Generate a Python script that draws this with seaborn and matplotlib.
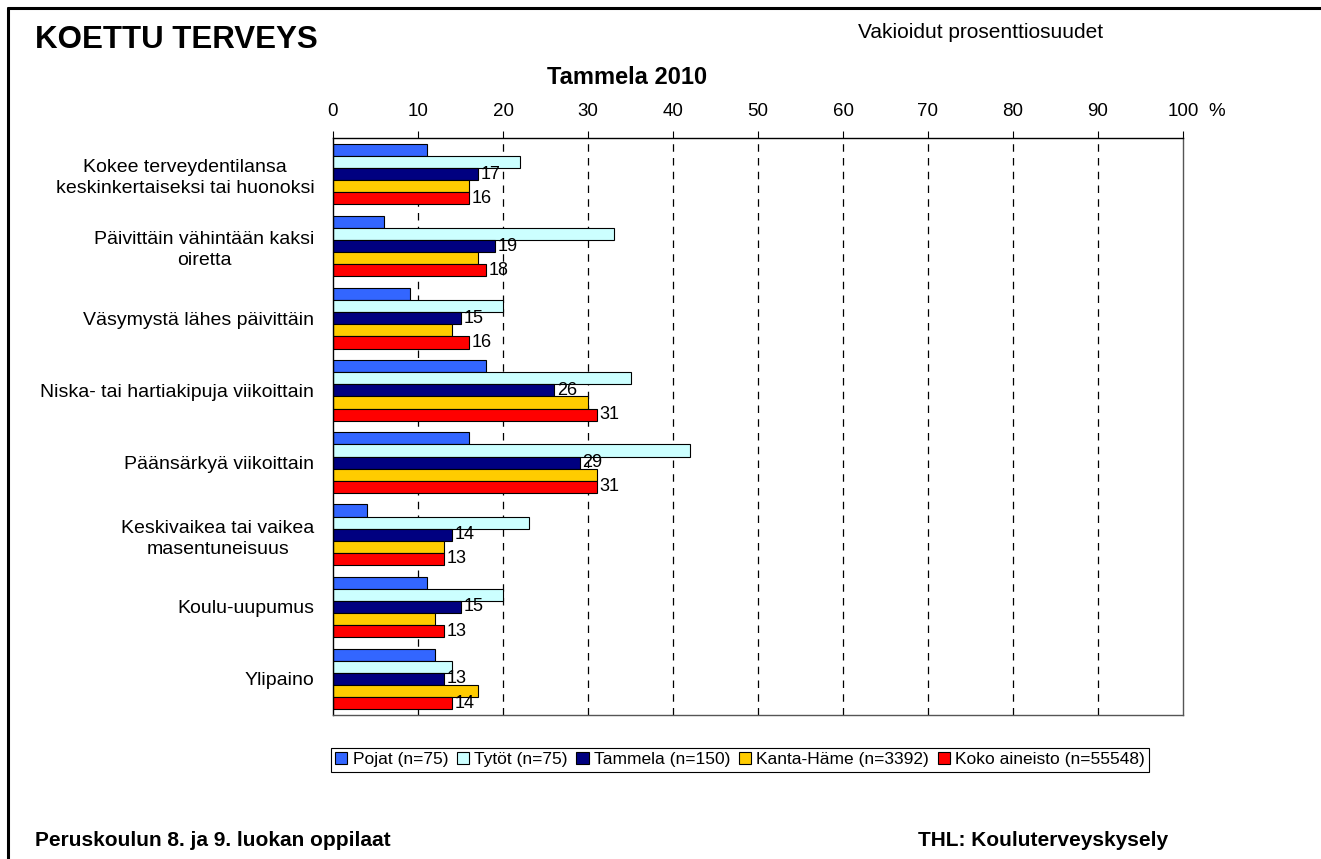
import matplotlib
matplotlib.use("Agg")
import matplotlib.pyplot as plt
import seaborn as sns
import pandas as pd

categories = [
    "Kokee terveydentilansa\nkeskinkertaiseksi tai huonoksi",
    "Päivittäin vähintään kaksi\noiretta",
    "Väsymystä lähes päivittäin",
    "Niska- tai hartiakipuja viikoittain",
    "Päänsärkyä viikoittain",
    "Keskivaikea tai vaikea\nmasentuneisuus",
    "Koulu-uupumus",
    "Ylipaino",
]
series = ["Pojat (n=75)", "Tytöt (n=75)", "Tammela (n=150)",
          "Kanta-Häme (n=3392)", "Koko aineisto (n=55548)"]
pojat = [11, 6, 9, 18, 16, 4, 11, 12]
tytot = [22, 33, 20, 35, 42, 23, 20, 14]
tammela = [17, 19, 15, 26, 29, 14, 15, 13]
kanta_hame = [16, 17, 14, 30, 31, 13, 12, 17]
koko = [16, 18, 16, 31, 31, 13, 13, 14]
labelled = ["Tammela (n=150)", "Koko aineisto (n=55548)"]
colors = ["#3366FF", "#CCFFFF", "#000080", "#FFCC00", "#FF0000"]

rows = []
for s, vals in zip(series, [pojat, tytot, tammela, kanta_hame, koko]):
    for c, v in zip(categories, vals):
        rows.append({"cat": c, "series": s, "val": v})
df = pd.DataFrame(rows)

sns.set_style("white")
plt.rcParams["font.family"] = ["Liberation Sans", "DejaVu Sans"]
plt.rcParams["text.color"] = "black"
plt.rcParams["xtick.color"] = "black"
plt.rcParams["ytick.color"] = "black"

fig = plt.figure(figsize=(13.21, 8.59), dpi=100)
ax = fig.add_axes([333 / 1321, 1 - 715 / 859, 850 / 1321, 577 / 859])

sns.barplot(data=df, y="cat", x="val", hue="series", order=categories,
            hue_order=series, palette=colors, saturation=1, orient="h", width=0.84,
            edgecolor="black", linewidth=0.8, ax=ax, legend=True)

# only Tammela and Koko aineisto get value labels
for cont, s in zip(ax.containers, series):
    if s in labelled:
        ax.bar_label(cont, fmt="%d", padding=2, fontsize=13, color="black")

ax.set_xlim(0, 100)
ax.set_ylim(len(categories) - 0.5, -0.5)
ax.xaxis.tick_top()
ax.set_xticks(range(0, 101, 10))
ax.tick_params(axis="x", top=True, direction="out", length=5, labelsize=13.5, pad=8)
ax.tick_params(axis="y", left=False, labelsize=14, pad=10)
for lab in ax.get_yticklabels():
    lab.set_multialignment("center")
    lab.set_linespacing(1.3)
ax.set_xlabel("")
ax.set_ylabel("")
for x in range(10, 100, 10):
    ax.axvline(x, color="black", linestyle=(0, (6, 5)), linewidth=0.9, zorder=0)
for name, sp in ax.spines.items():
    sp.set_visible(True)
    sp.set_color("black" if name in ("top", "left") else "#555555")
    sp.set_linewidth(1.0)

ax.legend(loc="upper center", bbox_to_anchor=(740 / 1321, 1 - 748 / 859),
          bbox_transform=fig.transFigure, ncol=5, fontsize=12.5, frameon=True,
          fancybox=False, edgecolor="black", framealpha=1, handlelength=0.7,
          handleheight=0.7, handletextpad=0.3, columnspacing=0.5, borderpad=0.25,
          borderaxespad=0)
ax.get_legend().get_frame().set_linewidth(0.8)

fig.text(1208 / 1321, 1 - 111 / 859, "%", fontsize=13.5, va="center", ha="left")
fig.text(35 / 1321, 1 - 40 / 859, "KOETTU TERVEYS", fontsize=22.5, fontweight="bold", va="center")
fig.text(858 / 1321, 1 - 32 / 859, "Vakioidut prosenttiosuudet", fontsize=15, va="center")
fig.text(627 / 1321, 1 - 78 / 859, "Tammela 2010", fontsize=17, fontweight="bold",
         va="center", ha="center")
fig.text(35 / 1321, 1 - 840 / 859, "Peruskoulun 8. ja 9. luokan oppilaat", fontsize=15,
         fontweight="bold", va="center")
fig.text(918 / 1321, 1 - 840 / 859, "THL: Kouluterveyskysely", fontsize=15,
         fontweight="bold", va="center", ha="left")

# outer frame (top and left visible)
fig.add_artist(plt.Line2D([8 / 1321, 1], [1 - 8 / 859, 1 - 8 / 859], color="black", linewidth=2.2))
fig.add_artist(plt.Line2D([8 / 1321, 8 / 1321], [0, 1 - 8 / 859], color="black", linewidth=2.2))

fig.savefig("out.png", dpi=100)
